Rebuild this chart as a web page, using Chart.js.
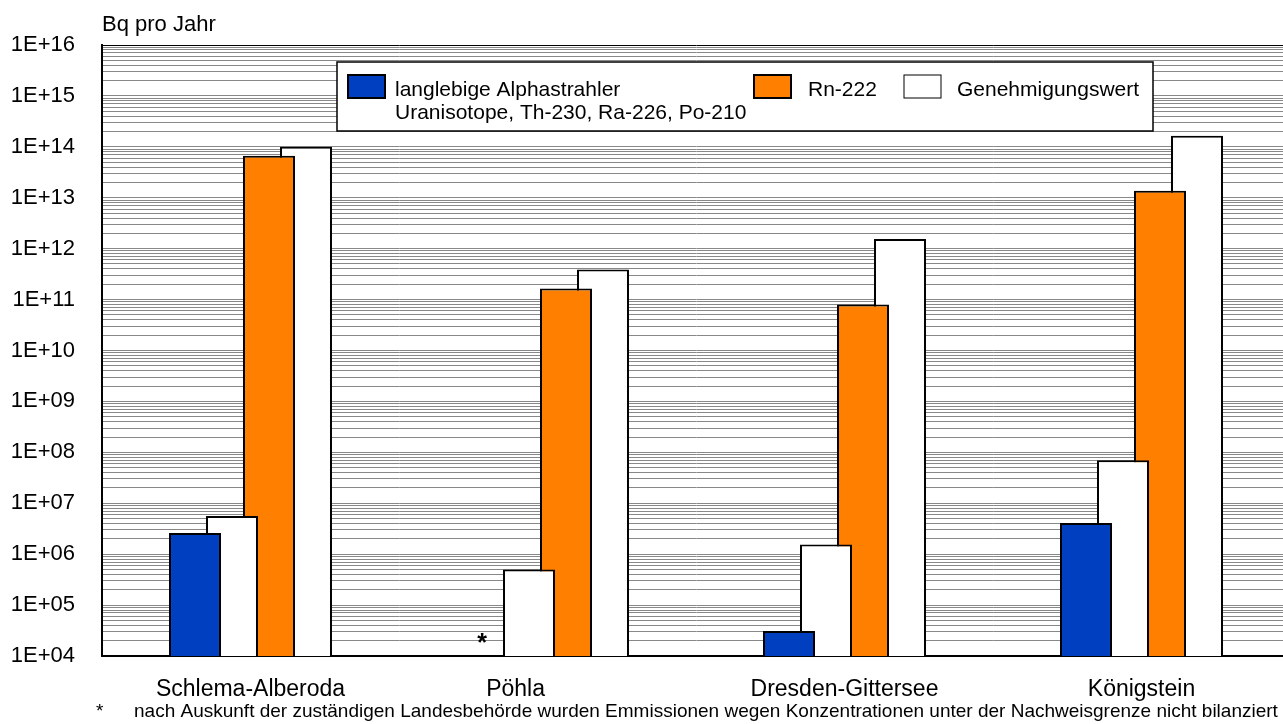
<!DOCTYPE html>
<html>
<head>
<meta charset="utf-8">
<script src="https://cdn.jsdelivr.net/npm/chart.js@4.4.0/dist/chart.umd.min.js"></script>
<style>
html, body { margin: 0; padding: 0; overflow: hidden; background: #fff; }
#wrap { width: 1291px; height: 724px; }
</style>
</head>
<body>
<div id="wrap"><canvas id="myChart"></canvas></div>
<script>
const categories = ['Schlema-Alberoda', 'Pöhla', 'Dresden-Gittersee', 'Königstein'];
// Bq pro Jahr
const alphaValues = [2.6e6, null, 3.1e4, 4.1e6];
const alphaLimit = [5.6e6, 5.0e5, 1.55e6, 7.0e7];
const radonValues = [6.7e13, 1.66e11, 8.0e10, 1.37e13];
const radonLimit = [1.0e14, 3.9e11, 1.55e12, 1.65e14];

const legendLabels = [
    ['langlebige Alphastrahler', 'Uranisotope, Th-230, Ra-226, Po-210'],
    ['Rn-222'],
    ['Genehmigungswert']
];
const footnote = 'nach Auskunft der zuständigen Landesbehörde wurden Emmissionen wegen Konzentrationen unter der Nachweisgrenze nicht bilanziert';
const yTitle = 'Bq pro Jahr';

const blue = '#0040c0';
const orange = '#ff8000';
const font = 'Liberation Sans, Arial, sans-serif';

const barStyle = {borderColor: '#000', borderWidth: 2, barPercentage: 1.405, categoryPercentage: 0.4983};

const decor = {
    id: 'decor',
    afterDraw(chart) {
        const c = chart.ctx;
        const area = chart.chartArea;
        c.save();
        c.fillStyle = '#000';
        c.textBaseline = 'alphabetic';
        c.font = '22px ' + font;
        c.fillText(yTitle, area.left, 31);

        // legend
        c.fillStyle = '#fff';
        c.fillRect(337, 62, 816, 69);
        c.strokeStyle = '#000';
        c.lineWidth = 1.5;
        c.strokeRect(337, 62, 816, 69);
        const items = [
            {x: 348, tx: 395, color: blue, bw: 2, lines: legendLabels[0]},
            {x: 754, tx: 808, color: orange, bw: 2, lines: legendLabels[1]},
            {x: 904, tx: 957, color: '#fff', bw: 1, lines: legendLabels[2]}
        ];
        c.font = '21px ' + font;
        items.forEach(it => {
            c.fillStyle = it.color;
            c.fillRect(it.x, 75, 37, 23);
            c.lineWidth = it.bw;
            c.strokeStyle = '#000';
            c.strokeRect(it.x, 75, 37, 23);
            c.fillStyle = '#000';
            it.lines.forEach((l, i) => c.fillText(l, it.tx, 96 + i * 23));
        });

        // asterisk where the Pöhla alpha value is missing
        const meta = chart.getDatasetMeta(0);
        alphaValues.forEach((v, i) => {
            if (v === null) {
                c.font = 'bold 25px ' + font;
                c.textAlign = 'center';
                c.fillText('*', meta.data[i].x - 10, area.bottom - 5);
            }
        });

        c.textAlign = 'left';
        c.font = '19px ' + font;
        c.fillText('*', 96, 717);
        c.fillText(footnote, 134, 717);
        c.restore();
    }
};

const ctx = document.getElementById('myChart').getContext('2d');
let myChart = new Chart(ctx, {
    type: 'bar',
    data: {
        labels: categories,
        datasets: [
            {label: legendLabels[0][0], data: alphaValues, backgroundColor: blue, ...barStyle},
            {label: legendLabels[2][0], data: alphaLimit, backgroundColor: '#fff', ...barStyle},
            {label: legendLabels[1][0], data: radonValues, backgroundColor: orange, ...barStyle},
            {label: legendLabels[2][0], data: radonLimit, backgroundColor: '#fff', ...barStyle}
        ]
    },
    options: {
        responsive: true,
        maintainAspectRatio: false,
        animation: false,
        layout: {padding: {top: 45, right: 1, bottom: 0, left: 0}},
        plugins: {legend: {display: false}, tooltip: {enabled: false}},
        scales: {
            x: {
                grid: {display: false},
                border: {color: '#000', width: 2},
                ticks: {
                    color: '#000',
                    font: {size: 23, family: font},
                    padding: 12,
                    // the Pöhla label sits left of its group in the original
                    callback: (v, i) => i === 1 ? categories[i] + '\u00a0'.repeat(10) : categories[i]
                },
                afterFit: s => { s.height = 68; }
            },
            y: {
                type: 'logarithmic',
                min: 1e4,
                max: 1e16,
                border: {color: '#000', width: 2},
                grid: {
                    drawTicks: false,
                    lineWidth: 1,
                    color: c => (c.tick && c.tick.value >= 1e16) ? '#000' : '#888888'
                },
                afterBuildTicks: s => {
                    const t = [];
                    for (let e = 4; e < 16; e++) {
                        for (let m = 1; m < 10; m++) t.push({value: m * Math.pow(10, e)});
                    }
                    t.push({value: 1e16});
                    s.ticks = t;
                },
                afterFit: s => { s.width = 102; },
                ticks: {
                    autoSkip: false,
                    color: '#000',
                    padding: 27,
                    font: {size: 22, family: font},
                    callback: v => {
                        const e = Math.log10(v);
                        if (Math.abs(e - Math.round(e)) > 1e-6) return '';
                        return '1E+' + String(Math.round(e)).padStart(2, '0');
                    }
                }
            }
        }
    },
    plugins: [decor]
});
</script>
</body>
</html>
